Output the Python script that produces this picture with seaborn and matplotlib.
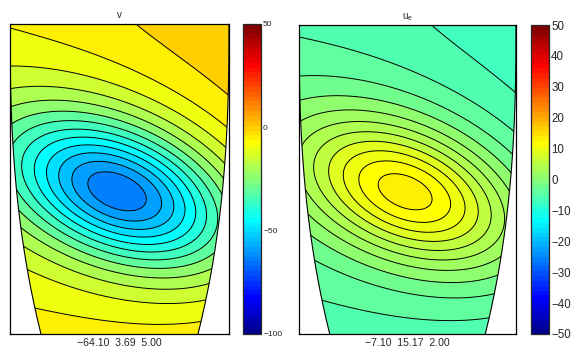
import numpy as np
import matplotlib
matplotlib.use("Agg")
import matplotlib.pyplot as plt
import seaborn as sns
from matplotlib.colors import ListedColormap, Normalize
from matplotlib.cm import ScalarMappable
from matplotlib.path import Path
from matplotlib.patches import PathPatch

sns.set_style("white")
plt.rcParams['font.family'] = ['Liberation Sans', 'DejaVu Sans']
plt.rcParams['contour.negative_linestyle'] = 'solid'

# ---------------- data ----------------
panel_titles = ["v", "u$_\\mathregular{e}$"]
v_stats = [-64.10, 3.69, 5.00]      # min, max, contour interval
ue_stats = [-7.10, 15.17, 2.00]
v_clim = [-100, 50]
ue_clim = [-50, 50]
v_cbar_ticks = [-100, -50, 0, 50]
ue_cbar_ticks = [-50, -40, -30, -20, -10, 0, 10, 20, 30, 40, 50]

# vortex geometry (panel pixels)
vortex_center = [110, 142]
vortex_tilt_deg = -22
vortex_scales = [120, 66]    # along / across major axis
domain_size = [219, 310]
domain_inset = 31            # how far the curved sides come in at the bottom
domain_power = 2.5

v_background = [1.5, 0.025, 0.012]     # offset, along-axis slope, across-axis slope
v_amplitude = -66
ue_background = [-6.5, -0.0083, -0.004]
ue_amplitude = 22


def matlab_jet(n=64):
    x = np.arange(1, n + 1) / n
    r = np.clip(1.5 - np.abs(4 * x - 3), 0, 1)
    g = np.clip(1.5 - np.abs(4 * x - 2), 0, 1)
    b = np.clip(1.5 - np.abs(4 * x - 1), 0, 1)
    return ListedColormap(np.column_stack([r, g, b]))


cmap = matlab_jet(64)
W, H = domain_size
xs = np.linspace(0, W, 330)
ys = np.linspace(0, H, 460)
X, Y = np.meshgrid(xs, ys)


def left_edge(y):
    return domain_inset * ((H - y) / H) ** domain_power


inside = (X >= left_edge(Y)) & (X <= W - left_edge(Y))


def make_field(background, amp, stats):
    t = np.deg2rad(vortex_tilt_deg)
    dx = X - vortex_center[0]
    dy = Y - vortex_center[1]
    a = dx * np.cos(t) + dy * np.sin(t)
    b = -dx * np.sin(t) + dy * np.cos(t)
    r = np.hypot(a / vortex_scales[0], b / vortex_scales[1])
    f = background[0] + background[1] * a + background[2] * b + amp / np.cosh(r) ** 2
    lo, hi = f[inside].min(), f[inside].max()
    return stats[0] + (stats[1] - stats[0]) * (f - lo) / (hi - lo)


def domain_patch(ax):
    yy = np.linspace(H, 0, 200)
    left = np.column_stack([left_edge(yy), yy])
    right = np.column_stack([W - left_edge(yy[::-1]), yy[::-1]])
    verts = np.vstack([left, right, left[:1]])
    return PathPatch(Path(verts), transform=ax.transData, facecolor='none', edgecolor='none')


fig = plt.figure(figsize=(5.78, 3.52), dpi=100)
ax_pos = [[10 / 578, 18 / 352, 219 / 578, 310 / 352],
          [299 / 578, 18 / 352, 217 / 578, 309 / 352]]
cb_pos = [[243 / 578, 18 / 352, 18 / 578, 310 / 352],
          [531 / 578, 18 / 352, 18 / 578, 309 / 352]]

panels = [
    (make_field(v_background, v_amplitude, v_stats), v_stats, v_clim, v_cbar_ticks, 6),
    (make_field(ue_background, ue_amplitude, ue_stats), ue_stats, ue_clim, ue_cbar_ticks, 8.3),
]

for i, (Z, stats, clim, cticks, cfs) in enumerate(panels):
    ax = fig.add_axes(ax_pos[i])
    norm = Normalize(vmin=clim[0], vmax=clim[1])
    step = stats[2]
    line_levels = np.arange(np.ceil(stats[0] / step) * step, stats[1], step)
    fill_levels = np.concatenate([[stats[0] - 1e-6], line_levels, [stats[1] + 1e-6]])
    # each band takes the colour of its lower bound (as MATLAB contourf does)
    band_colors = [cmap(norm(max(v, stats[0]))) for v in fill_levels[:-1]]
    cf = ax.contourf(X, Y, Z, levels=fill_levels, colors=band_colors)
    cl = ax.contour(X, Y, Z, levels=line_levels, colors='k', linewidths=0.7,
                    linestyles='solid')
    patch = domain_patch(ax)
    ax.add_patch(patch)
    cf.set_clip_path(patch)
    cl.set_clip_path(patch)
    yy = np.linspace(H, 0, 200)
    ax.plot(left_edge(yy), yy, color='k', lw=0.8)
    ax.plot(W - left_edge(yy), yy, color='k', lw=0.8)
    ax.set_xlim(0, W)
    ax.set_ylim(0, H)
    ax.set_xticks([])
    ax.set_yticks([])
    for s in ax.spines.values():
        s.set_visible(True)
        s.set_color('k')
        s.set_linewidth(0.9)
    ax.set_title(panel_titles[i], fontsize=7, pad=4)
    ax.text(0.5, -0.012, "\u2212%.2f  %.2f  %.2f" % (abs(stats[0]), stats[1], stats[2]),
            transform=ax.transAxes, ha='center', va='top', fontsize=7.6)

    cax = fig.add_axes(cb_pos[i])
    cb = fig.colorbar(ScalarMappable(norm=norm, cmap=cmap), cax=cax)
    cb.set_ticks(cticks)
    cb.outline.set_linewidth(0.9)
    cax.tick_params(direction='in', left=True, right=True, labelleft=False,
                    labelright=True, length=3, width=0.6, labelsize=cfs, pad=1.5)

fig.savefig("out.png", dpi=100)
